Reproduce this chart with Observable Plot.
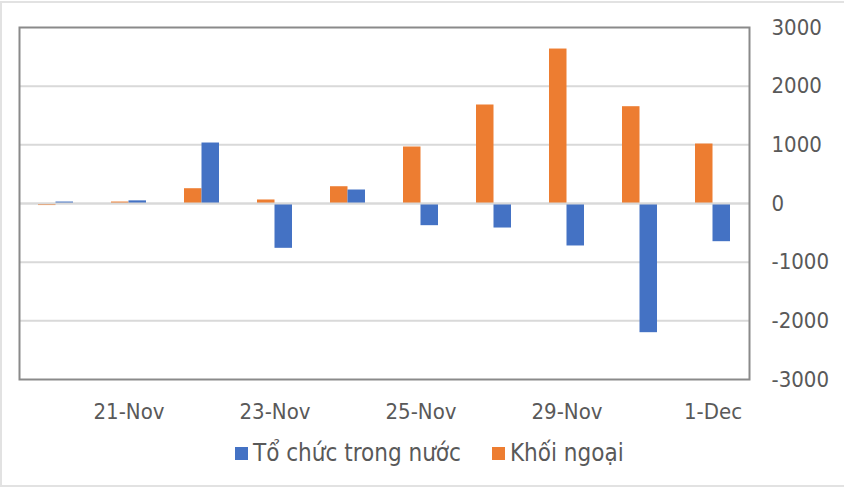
<!DOCTYPE html>
<html>
<head>
<meta charset="utf-8">
<script src="https://cdn.jsdelivr.net/npm/d3@7"></script>
<script src="https://cdn.jsdelivr.net/npm/@observablehq/plot@0.6"></script>
<style>
  html, body { margin: 0; padding: 0; background: #fff; }
  #wrap { position: relative; width: 844px; height: 494px; overflow: hidden;
          font-family: "DejaVu Sans Condensed", "DejaVu Sans", sans-serif; font-stretch: condensed; }
  #border { position: absolute; left: 0; top: 1px; width: 860px; height: 486px;
            border: 2px solid #e2e2e2; box-sizing: border-box; }
  #chart { position: absolute; left: 0; top: 0; }
  #legend { position: absolute; left: 235px; top: 439px; height: 28px; display: flex; align-items: center;
            font-size: 24px; color: #595959; white-space: nowrap; }
  .sw { display: inline-block; width: 13px; height: 13px; margin-right: 5px; }
  .item { display: flex; align-items: center; }
</style>
</head>
<body>
<div id="wrap">
  <div id="border"></div>
  <div id="chart"></div>
  <div id="legend"></div>
</div>
<script>
const dates = ["20-Nov","21-Nov","22-Nov","23-Nov","24-Nov","25-Nov","28-Nov","29-Nov","30-Nov","1-Dec"];
const khoiNgoai = [-35, 25, 252, 60, 286, 963, 1679, 2633, 1650, 1014];
const toChucTrongNuoc = [25, 45, 1031, -764, 230, -378, -418, -724, -2202, -651];
const xTickLabels = ["21-Nov","23-Nov","25-Nov","29-Nov","1-Dec"];
const yTickValues = [-3000, -2000, -1000, 0, 1000, 2000, 3000];
const seriesNames = ["Tổ chức trong nước", "Khối ngoại"];
const colors = { "Tổ chức trong nước": "#4472C4", "Khối ngoại": "#ED7D31" };

const rows = dates.map((d, i) => ({ date: d, kn: khoiNgoai[i], tc: toChucTrongNuoc[i] }));

const chart = Plot.plot({
  width: 844,
  height: 430,
  marginLeft: 19,
  marginRight: 95,
  marginTop: 27,
  marginBottom: 51,
  style: { fontFamily: '"DejaVu Sans Condensed", "DejaVu Sans", sans-serif', fontStretch: "condensed", fontSize: "22px", color: "#595959", background: "transparent" },
  x: { domain: dates, padding: 0, axis: null },
  y: { domain: [-3000, 3000], axis: null },
  marks: [
    Plot.ruleY(yTickValues.filter(v => v !== 3000 && v !== -3000), { stroke: "#d9d9d9", strokeWidth: 2 }),
    Plot.barY(rows, { x: "date", y: "kn", fill: colors["Khối ngoại"], insetLeft: 19, insetRight: 36.5 }),
    Plot.barY(rows, { x: "date", y: "tc", fill: colors["Tổ chức trong nước"], insetLeft: 36.5, insetRight: 19 }),
    Plot.ruleY([0], { stroke: "#d9d9d9", strokeWidth: 2 }),
    Plot.frame({ stroke: "#8a8a8a", strokeWidth: 2 }),
    Plot.axisY(yTickValues, { anchor: "right", tickSize: 0, tickPadding: 22, fontSize: 22, fill: "#595959", label: null, tickFormat: d => String(d) }),
    Plot.axisX(xTickLabels, { anchor: "bottom", tickSize: 0, tickPadding: 24, fontSize: 22, fill: "#595959", label: null })
  ]
});
document.getElementById("chart").appendChild(chart);

const legend = document.getElementById("legend");
seriesNames.forEach((name, i) => {
  const item = document.createElement("span");
  item.className = "item";
  if (i > 0) item.style.marginLeft = "31px";
  const sw = document.createElement("span");
  sw.className = "sw";
  sw.style.background = colors[name];
  item.appendChild(sw);
  item.appendChild(document.createTextNode(name));
  legend.appendChild(item);
});
</script>
</body>
</html>
